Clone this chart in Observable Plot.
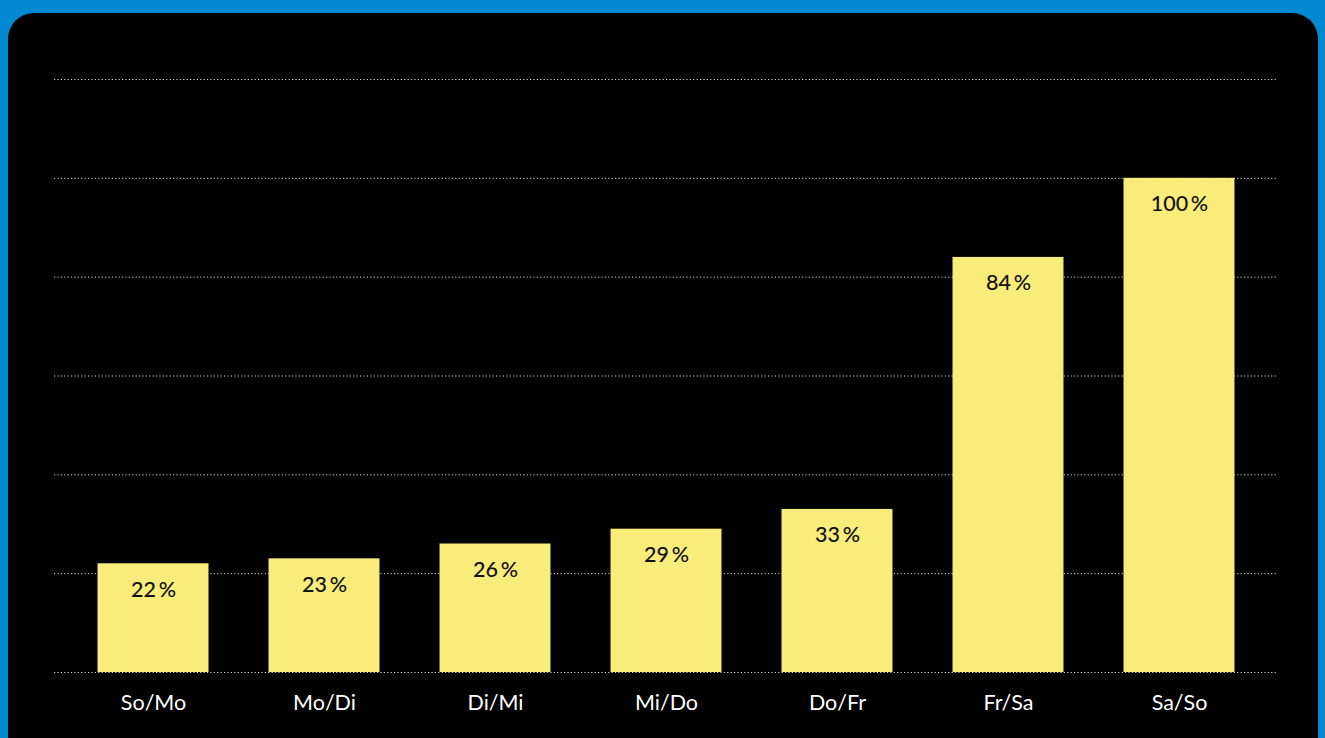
<!DOCTYPE html>
<html>
<head>
<meta charset="utf-8">
<script src="https://cdn.jsdelivr.net/npm/d3@7"></script>
<script src="https://cdn.jsdelivr.net/npm/@observablehq/plot@0.6"></script>
<style>
  html, body { margin: 0; padding: 0; width: 1325px; height: 738px; overflow: hidden; background: #0088D1; }
  #panel { position: absolute; left: 8px; top: 13px; width: 1310px; height: 760px; background: #000; border-radius: 26px; }
  #chart { position: absolute; left: 0; top: 0; }
  #chart svg { background: transparent; }
</style>
</head>
<body>
<div id="panel"></div>
<div id="chart"></div>
<script>
const nights = ["So/Mo", "Mo/Di", "Di/Mi", "Mi/Do", "Do/Fr", "Fr/Sa", "Sa/So"];
const shares = [22, 23, 26, 29, 33, 84, 100];
const gridTicks = [0, 20, 40, 60, 80, 100, 120];

const data = nights.map((n, i) => ({night: n, value: shares[i]}));
const font = "Lato, 'Open Sans', sans-serif";

const chart = Plot.plot({
  width: 1325,
  height: 738,
  marginLeft: 54,
  marginRight: 47,
  marginTop: 79,
  marginBottom: 66,
  style: {background: "transparent", fontFamily: font},
  x: {domain: nights, paddingInner: 0.351, paddingOuter: 0.2545, round: false, label: null},
  y: {domain: [0, 120], label: null},
  marks: [
    Plot.ruleY(gridTicks, {stroke: "#fff", strokeOpacity: 0.85, strokeDasharray: "1.2,2.2", strokeWidth: 1}),
    Plot.barY(data, {x: "night", y: "value", fill: "#F8EC7A"}),
    Plot.text(data, {x: "night", y: "value", text: d => d.value + "\u2009%", dy: 26, fill: "#111", fontSize: 21.5, fontWeight: 500}),
    Plot.axisX({tickSize: 0, tickPadding: 22, fontSize: 21.5, color: "#fff", label: null}),
    Plot.axisY({ticks: []})
  ]
});
document.getElementById("chart").appendChild(chart);
</script>
</body>
</html>
